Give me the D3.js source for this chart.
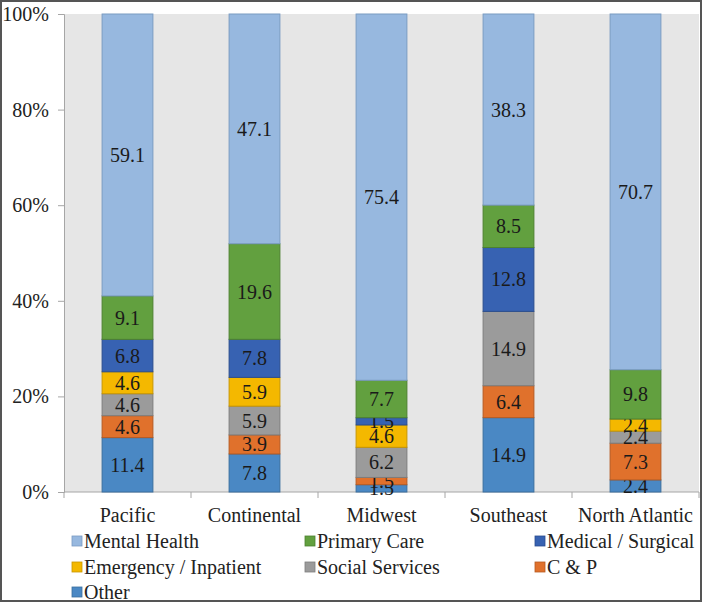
<!DOCTYPE html>
<html>
<head>
<meta charset="utf-8">
<script src="https://cdn.jsdelivr.net/npm/d3@7"></script>
<style>
  html, body { margin: 0; padding: 0; background: #fff; }
  svg { display: block; }
</style>
</head>
<body>
<div id="chart"></div>
<script>
// data (stack order: bottom to top)
var regions = ["Pacific", "Continental", "Midwest", "Southeast", "North Atlantic"];
var other = [11.4, 7.8, 1.5, 14.9, 2.4];
var cAndP = [4.6, 3.9, 1.5, 6.4, 7.3];
var socialServices = [4.6, 5.9, 6.2, 14.9, 2.4];
var emergency = [4.6, 5.9, 4.6, 0, 2.4];
var medical = [6.8, 7.8, 1.5, 12.8, 0];
var primaryCare = [9.1, 19.6, 7.7, 8.5, 9.8];
var mentalHealth = [59.1, 47.1, 75.4, 38.3, 70.7];
var yTicks = [0, 0.2, 0.4, 0.6, 0.8, 1];

var series = [
  { key: "Other", values: other, color: "#4a88c4", edge: "#3a6f9f" },
  { key: "C & P", values: cAndP, color: "#e0712c", edge: "#b65a22" },
  { key: "Social Services", values: socialServices, color: "#9b9b9b", edge: "#7d7d7d" },
  { key: "Emergency / Inpatient", values: emergency, color: "#f4b800", edge: "#c89600" },
  { key: "Medical / Surgical", values: medical, color: "#3762b2", edge: "#2a4d8e" },
  { key: "Primary Care", values: primaryCare, color: "#62a03f", edge: "#4d8030" },
  { key: "Mental Health", values: mentalHealth, color: "#97b8df", edge: "#7a9bc2" }
];
var legendOrder = ["Mental Health", "Primary Care", "Medical / Surgical",
  "Emergency / Inpatient", "Social Services", "C & P", "Other"];

var width = 702, height = 602;
var margin = { top: 14, right: 3, bottom: 110, left: 64 };
var serif = "Liberation Serif";
var fontSize = 20;

var rows = regions.map(function (r, i) {
  var o = { region: r };
  series.forEach(function (s) { o[s.key] = s.values[i]; });
  return o;
});

var stack = d3.stack()
  .keys(series.map(function (s) { return s.key; }))
  .offset(d3.stackOffsetExpand);
var stacked = stack(rows);

var svg = d3.select("#chart").append("svg")
  .attr("width", width)
  .attr("height", height);

var x = d3.scaleBand()
  .domain(regions)
  .range([margin.left, width - margin.right])
  .paddingInner(0.6)
  .paddingOuter(0.3);

var y = d3.scaleLinear()
  .domain([0, 1])
  .range([height - margin.bottom, margin.top]);

// plot background
svg.append("rect")
  .attr("x", margin.left)
  .attr("y", margin.top)
  .attr("width", width - margin.right - margin.left)
  .attr("height", y(0) - y(1))
  .attr("fill", "#e6e6e6");

// y axis
var yAxis = svg.append("g")
  .attr("transform", "translate(" + margin.left + ",0)")
  .call(d3.axisLeft(y).tickValues(yTicks).tickFormat(d3.format(".0%")).tickSize(6).tickPadding(9));
yAxis.attr("font-family", serif);
yAxis.selectAll("text")
  .attr("font-family", serif)
  .attr("font-size", fontSize)
  .attr("fill", "#222");
yAxis.selectAll("line, path").attr("stroke", "#a6a6a6");

// x axis with ticks between categories
var step = x.step();
var bounds = d3.range(regions.length + 1).map(function (i) {
  return x(regions[0]) - x.paddingOuter() * step + i * step;
});
var xg = svg.append("g");
xg.append("line")
  .attr("x1", margin.left).attr("x2", width - margin.right)
  .attr("y1", y(0)).attr("y2", y(0))
  .attr("stroke", "#a6a6a6");
xg.selectAll("line.tk")
  .data(bounds)
  .enter().append("line")
  .attr("class", "tk")
  .attr("x1", function (d) { return d; })
  .attr("x2", function (d) { return d; })
  .attr("y1", y(0)).attr("y2", y(0) + 6)
  .attr("stroke", "#a6a6a6");
xg.selectAll("text")
  .data(regions)
  .enter().append("text")
  .attr("x", function (d) { return x(d) + x.bandwidth() / 2; })
  .attr("y", y(0) + 30)
  .attr("text-anchor", "middle")
  .attr("font-family", serif)
  .attr("font-size", fontSize)
  .attr("fill", "#222")
  .text(function (d) { return d; });

// bars
var colorOf = {};
series.forEach(function (s) { colorOf[s.key] = s; });

var layers = svg.selectAll("g.layer")
  .data(stacked)
  .enter().append("g")
  .attr("class", "layer");

layers.selectAll("rect")
  .data(function (d) { return d.map(function (v) { return { key: d.key, v: v }; }); })
  .enter().append("rect")
  .filter(function (d) { return d.v[1] - d.v[0] > 0; })
  .attr("x", function (d) { return x(d.v.data.region); })
  .attr("y", function (d) { return y(d.v[1]); })
  .attr("width", x.bandwidth())
  .attr("height", function (d) { return y(d.v[0]) - y(d.v[1]); })
  .attr("fill", function (d) { return colorOf[d.key].color; })
  .attr("stroke", function (d) { return colorOf[d.key].edge; })
  .attr("stroke-width", 1);

// value labels
layers.selectAll("text")
  .data(function (d) { return d.map(function (v) { return { key: d.key, v: v }; }); })
  .enter().append("text")
  .filter(function (d) { return d.v.data[d.key] > 0; })
  .attr("x", function (d) { return x(d.v.data.region) + x.bandwidth() / 2; })
  .attr("y", function (d) { return (y(d.v[0]) + y(d.v[1])) / 2; })
  .attr("dy", "0.35em")
  .attr("text-anchor", "middle")
  .attr("font-family", serif)
  .attr("font-size", fontSize)
  .attr("fill", "#1a1a1a")
  .text(function (d) { return d3.format(".1f")(d.v.data[d.key]); });

// legend, three per row
var legendCols = [72, 305, 535];
var legendRows = [541, 567, 592];
var legend = svg.selectAll("g.legend")
  .data(legendOrder)
  .enter().append("g")
  .attr("class", "legend")
  .attr("transform", function (d, i) {
    return "translate(" + legendCols[i % 3] + "," + legendRows[Math.floor(i / 3)] + ")";
  });
legend.append("rect")
  .attr("x", 0).attr("y", -5)
  .attr("width", 10).attr("height", 10)
  .attr("fill", function (d) { return colorOf[d].color; })
  .attr("stroke", function (d) { return colorOf[d].edge; })
  .attr("stroke-width", 0.8);
legend.append("text")
  .attr("x", 12)
  .attr("dy", "0.35em")
  .attr("font-family", serif)
  .attr("font-size", fontSize)
  .attr("fill", "#222")
  .text(function (d) { return d; });

// outer frame
svg.append("rect")
  .attr("x", 1).attr("y", 1)
  .attr("width", width - 2).attr("height", height - 2)
  .attr("fill", "none")
  .attr("stroke", "#555")
  .attr("stroke-width", 2);
</script>
</body>
</html>
